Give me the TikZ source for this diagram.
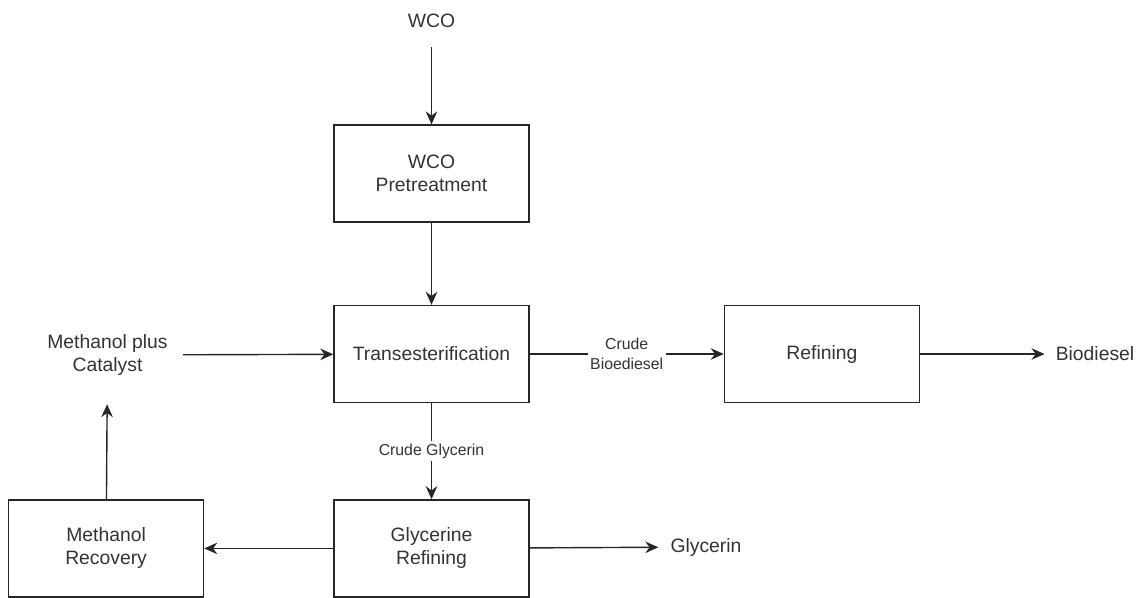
\documentclass[tikz,border=0pt]{standalone}
\usepackage{fontspec}
\setmainfont{Liberation Sans}
\usetikzlibrary{arrows.meta, positioning}

\begin{document}
\begin{tikzpicture}[
    node distance=1.64cm and 3.88cm,
    box/.style={rectangle, draw=black!85, line width=0.8pt, minimum width=3.9cm, minimum height=1.94cm,
                text centered, align=center, font=\fontsize{11}{13}\selectfont, text=black!80},
    lbl/.style={align=center, font=\fontsize{11}{13}\selectfont, text=black!80},
    elbl/.style={align=center, font=\fontsize{9}{11}\selectfont, text=black!80, fill=white, inner sep=1.5pt},
    arr/.style={-{Stealth[length=2.6mm, width=2.3mm]}, line width=0.8pt, draw=black!85},
]
\useasboundingbox (0,0) rectangle (22.84,-11.94);

% Main line
\node[box] (tr) at (8.63,-7.08) {Transesterification};
\node[box, above=1.64cm of tr] (pre) {WCO\\Pretreatment};
\node[box, right=3.88cm of tr] (ref) {Refining};
\node[box, below=1.92cm of tr] (gr) {Glycerine\\Refining};
\node[box, left=2.58cm of gr] (mr) {Methanol\\Recovery};

% Inputs / outputs
\node[lbl] (wco) at (8.63,-0.42) {WCO};
\node[lbl] (meth) at (2.15,-7.1) {Methanol plus\\Catalyst};
\node[lbl] (bio) at (21.9,-7.08) {Biodiesel};
\node[lbl] (gly) at (14.12,-10.94) {Glycerin};

% Arrows
\draw[arr, shorten <=0.26cm] (wco) -- (pre);
\draw[arr] (pre) -- (tr);
\draw[arr, shorten <=0.18cm] (meth) -- (tr);
\draw[arr] (tr) -- node[elbl] {Crude\\Bioediesel} (ref);
\draw[arr, shorten >=0.1cm] (ref) -- (bio);
\draw[arr] (tr) -- node[elbl] {Crude Glycerin} (gr);
\draw[arr, shorten >=0.12cm] (gr) -- (gly);
\draw[arr] (gr) -- (mr);
\draw[arr, shorten >=0.45cm] (mr) -- (meth);

\end{tikzpicture}
\end{document}
